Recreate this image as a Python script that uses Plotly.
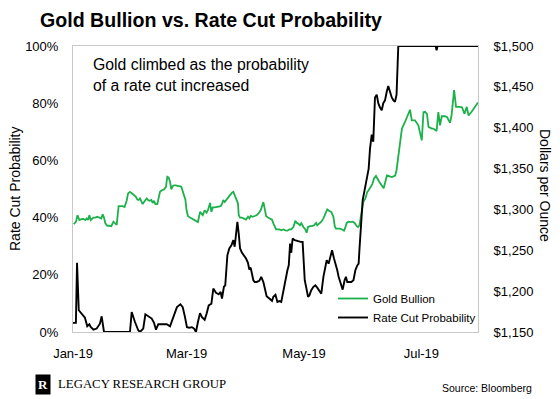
import pandas as pd
import plotly.graph_objects as go

# Days after 1 Jan 2019 and values
gold_day = [
    0.4, 1.6, 2.3, 3.3, 4.3, 5.4, 6.4, 7.1, 7.8, 8.5,
    9.2, 9.9, 10.6, 11.6, 12.6, 13.7, 14.7, 15.4, 16.1, 16.8,
    17.8, 18.9, 19.9, 21.0, 22.0, 22.7, 23.7, 24.8, 25.8, 26.8,
    27.9, 28.6, 29.6, 30.7, 31.7, 32.7, 33.4, 34.1, 34.8, 35.5,
    36.2, 36.9, 37.6, 38.3, 39.0, 39.7, 40.7, 41.4, 42.1, 42.8,
    43.8, 44.5, 45.2, 46.2, 47.3, 48.3, 49.0, 49.7, 50.4, 51.1,
    51.8, 52.5, 53.5, 54.5, 55.6, 56.3, 57.0, 57.7, 58.4, 59.0,
    59.7, 60.8, 61.8, 62.9, 63.9, 64.9, 66.0, 66.7, 67.4, 68.4,
    69.4, 70.1, 71.2, 71.9, 72.6, 73.6, 74.6, 75.7, 76.7, 77.4,
    78.1, 78.8, 79.5, 80.5, 81.6, 82.6, 83.3, 84.0, 85.0, 85.7,
    86.1, 86.8, 87.8, 88.8, 89.9, 90.9, 91.6, 92.3, 93.3, 94.4,
    95.4, 96.4, 97.5, 98.2, 98.9, 99.6, 100.3, 101.3, 102.3, 103.4,
    104.1, 104.8, 105.5, 106.2, 107.2, 108.2, 109.3, 110.3, 111.4, 112.4,
    113.4, 114.5, 115.5, 116.2, 116.9, 117.9, 118.6, 119.7, 120.7, 121.4,
    122.1, 123.1, 124.2, 125.2, 126.3, 126.9, 128.0, 129.0, 130.1, 131.1,
    132.1, 133.2, 134.2, 135.3, 136.0, 136.6, 137.7, 138.7, 139.8, 140.8,
    141.5, 142.2, 143.2, 144.3, 145.3, 146.3, 147.4, 148.1, 148.8, 149.5,
    150.2, 150.8, 151.9, 152.9, 153.6, 154.7, 155.5, 156.4, 157.4, 159.1,
    161.4, 163.1, 165.7, 167.4, 168.1, 170.0, 170.9, 172.5, 175.1, 176.0,
    177.7, 179.4, 181.2, 182.1, 182.9, 183.9, 184.7, 186.4, 187.2, 188.9,
    189.8, 190.7, 191.6, 193.2, 194.3, 195.9, 196.7, 198.0, 199.0, 201.0,
    202.1, 203.4, 204.6, 205.5, 207.1, 210.4,
]
gold_usd = [
    1282, 1285, 1293, 1287, 1288, 1288.5, 1287, 1289, 1287, 1293,
    1287, 1288, 1290, 1290, 1291, 1290, 1289, 1294, 1290, 1283,
    1280, 1280, 1279.5, 1285, 1283, 1281, 1304, 1304, 1304, 1303,
    1311, 1319.5, 1321.5, 1319.5, 1317.5, 1315.5, 1312, 1311.5, 1313.5, 1310.5,
    1306.5, 1309, 1312, 1313.5, 1311.5, 1310.5, 1311.5, 1308, 1310.5, 1306.5,
    1306.5, 1313.5, 1321.5, 1323.5, 1324.5, 1327.5, 1340, 1339, 1334, 1324.5,
    1328.5, 1329.5, 1329.5, 1328.5, 1328.5, 1327.5, 1321.5, 1317.5, 1312, 1299,
    1292, 1290, 1288.5, 1287, 1286, 1284.5, 1297, 1295, 1293, 1299,
    1296, 1299, 1308, 1297, 1302.5, 1302.5, 1303, 1304, 1304, 1306.5,
    1311.5, 1309, 1311.5, 1314.5, 1317.5, 1320.5, 1321.5, 1317.5, 1310.5, 1307.5,
    1293, 1290, 1290, 1289, 1287.5, 1291, 1289, 1292, 1291, 1292,
    1293, 1295, 1299, 1304, 1309, 1301, 1292, 1290, 1289, 1287.5,
    1283, 1278, 1275.5, 1275.5, 1275.5, 1274.5, 1275.5, 1274.5, 1274, 1275.5,
    1275.5, 1278.5, 1286, 1283.5, 1283, 1280.5, 1283, 1278.5, 1275.5, 1271.5,
    1278.5, 1279.5, 1279.5, 1280.5, 1283.5, 1280.5, 1283, 1285, 1289, 1295,
    1300, 1298, 1297, 1291, 1279.5, 1276.5, 1276.5, 1276.5, 1275.5, 1274,
    1278, 1283.5, 1285, 1284.5, 1285, 1283.5, 1279.5, 1278.5, 1280.5, 1290,
    1304, 1309, 1313.5, 1321.5, 1323.5, 1328.5, 1331, 1338, 1341, 1334,
    1326, 1341.5, 1339.5, 1341.5, 1348, 1383, 1399, 1407, 1422, 1409,
    1409, 1403, 1384.5, 1419, 1419.5, 1417, 1401, 1399, 1399, 1396,
    1419, 1403, 1414, 1414, 1413, 1406, 1415.5, 1446, 1425.5, 1425.5,
    1425, 1417, 1425.5, 1415, 1419.5, 1431,
]

prob_day = [
    0.0, 1.5, 2.1, 3.0, 5.0, 6.2, 7.4, 8.5, 9.2, 10.6,
    12.3, 14.0, 14.9, 16.1, 29.6, 30.5, 32.2, 33.9, 34.8, 36.5,
    37.6, 39.1, 40.9, 42.1, 43.1, 44.3, 46.1, 48.7, 50.4, 51.6,
    52.3, 54.0, 55.8, 57.0, 58.0, 59.2, 60.4, 61.8, 62.9, 63.9,
    64.9, 66.0, 67.0, 68.4, 69.4, 70.5, 71.9, 72.9, 74.3, 75.7,
    76.7, 77.4, 78.4, 79.1, 80.2, 81.2, 82.3, 83.3, 84.0, 84.7,
    85.4, 86.1, 86.8, 87.8, 88.8, 89.9, 90.9, 91.6, 92.3, 93.0,
    93.7, 94.4, 95.4, 96.8, 97.8, 98.9, 99.6, 100.6, 102.0, 103.4,
    104.1, 105.2, 106.2, 107.2, 108.2, 109.3, 110.3, 111.4, 112.1, 112.8,
    113.4, 114.1, 115.2, 116.2, 117.3, 118.3, 119.3, 120.4, 121.4, 122.1,
    122.8, 123.8, 124.9, 125.9, 126.9, 128.0, 129.0, 130.1, 131.1, 131.8,
    132.8, 133.9, 134.6, 135.6, 136.3, 137.3, 138.0, 139.1, 140.1, 141.1,
    141.8, 142.5, 143.6, 144.6, 145.7, 146.7, 147.7, 148.4, 148.8, 149.5,
    150.5, 151.5, 152.6, 153.6, 154.3, 155.2, 156.0, 156.9, 157.8, 158.6,
    159.5, 160.4, 161.2, 162.1, 163.0, 163.8, 164.7, 165.6, 166.5, 167.3,
    168.1, 169.0, 188.4, 188.9, 189.4, 210.4,
]
prob_pct = [
    3.2, 3.2, 24.2, 7.6, 6.0, 5.0, 2.0, 2.7, 1.8, 0.8,
    1.2, 2.9, 5.5, 0, 0, 7.0, 3.5, 0.6, 0, 1.2,
    6.2, 5.5, 4.7, 3.2, 0.8, 2.7, 2.7, 2.7, 2.0, 4.5,
    5.8, 8.7, 9.7, 8.7, 5.8, 1.7, 1.5, 1.7, 1.2, 0,
    3.5, 6.6, 5.2, 4.3, 6.4, 9.3, 9.9, 15.2, 13.7, 13.2,
    14.0, 11.7, 15.8, 16.3, 26.8, 29.2, 30.3, 32.1, 29.8, 34.4,
    38.5, 34.4, 29.2, 27.7, 26.8, 25.7, 24.2, 21.8, 22.5, 20.4,
    18.1, 17.5, 17.5, 17.9, 19.3, 17.5, 15.2, 12.5, 11.7, 10.9,
    12.3, 13.0, 10.5, 10.8, 10.5, 14.6, 18.1, 21.6, 23.3, 30.9,
    27.7, 32.7, 32.1, 31.9, 31.5, 31.5, 31.5, 18.1, 14.8, 12.3,
    12.8, 14.6, 15.8, 16.3, 15.5, 14.6, 13.4, 19.3, 23.3, 25.1,
    23.9, 27.4, 28.6, 25.7, 24.2, 21.6, 19.3, 16.9, 14.8, 18.1,
    19.3, 17.5, 17.5, 17.5, 18.1, 21.6, 23.3, 23.9, 28.6, 37.9,
    46.1, 49.6, 54.0, 57.0, 64.0, 69.0, 66.5, 82.0, 83.0, 80.0,
    78.5, 77.5, 80.0, 81.0, 84.0, 86.0, 84.0, 82.0, 81.0, 80.5,
    83.0, 100, 100, 98.5, 100, 100,
]

x_tick_labels = ["Jan-19", "Mar-19", "May-19", "Jul-19"]
x_tick_dates = ["2019-01-01", "2019-03-01", "2019-05-01", "2019-07-01"]

start = pd.Timestamp("2019-01-01")
gold_dates = start + pd.to_timedelta(gold_day, unit="D")
prob_dates = start + pd.to_timedelta(prob_day, unit="D")

SANS = "Arial, Liberation Sans, sans-serif"
SERIF = "Times New Roman, Liberation Serif, serif"
AXIS_COLOR = "#c8c8c8"
NO_TICK = "rgba(0,0,0,0)"

fig = go.Figure()
fig.add_trace(go.Scatter(
    x=gold_dates, y=gold_usd, name="Gold Bullion", yaxis="y",
    mode="lines", line=dict(color="#1db14b", width=1.8),
))
fig.add_trace(go.Scatter(
    x=prob_dates, y=prob_pct, name="Rate Cut Probability", yaxis="y2",
    mode="lines", line=dict(color="#000000", width=1.9),
))

fig.update_layout(
    width=560, height=399,
    margin=dict(l=73, r=82, t=46, b=67),
    paper_bgcolor="white", plot_bgcolor="white",
    font=dict(family=SANS, size=13, color="#000000"),
    title=dict(
        text="<b>Gold Bullion vs. Rate Cut Probability</b>",
        x=40 / 560, xanchor="left", xref="container",
        y=1 - 20 / 399, yanchor="middle", yref="container",
        font=dict(family=SANS, size=19.6, color="#000000"),
    ),
    xaxis=dict(
        type="date",
        range=["2019-01-01", "2019-07-30 10:00"],
        tickvals=x_tick_dates, ticktext=x_tick_labels,
        showgrid=False, zeroline=False,
        showline=True, linecolor=AXIS_COLOR, linewidth=1, mirror=True,
        ticks="outside", ticklen=9, tickcolor=NO_TICK,
        tickfont=dict(size=13),
    ),
    yaxis=dict(
        side="right", range=[1150, 1500], dtick=50, tick0=1150,
        tickprefix="$", tickformat=",.0f",
        showgrid=False, zeroline=False,
        showline=True, linecolor=AXIS_COLOR, linewidth=1, mirror=True,
        ticks="outside", ticklen=12, tickcolor=NO_TICK,
        tickfont=dict(size=13),
    ),
    yaxis2=dict(
        side="left", overlaying="y", range=[0, 100], dtick=20,
        ticksuffix="%",
        showgrid=False, zeroline=False, showline=False,
        ticks="outside", ticklen=11, tickcolor=NO_TICK,
        tickfont=dict(size=13),
    ),
    showlegend=True,
    legend=dict(
        x=(333 - 73) / 405, xanchor="left",
        y=(332 - 284) / 286, yanchor="top",
        bgcolor="rgba(0,0,0,0)", borderwidth=0,
        font=dict(family=SANS, size=11.5, color="#000000"),
        itemwidth=30, tracegroupgap=0,
    ),
)

annotations = [
    dict(text="Gold climbed as the probability<br>of a rate cut increased",
         xref="paper", yref="paper", x=(91 - 73) / 405, y=(332 - 54) / 286,
         xanchor="left", yanchor="top", align="left", showarrow=False,
         font=dict(family=SANS, size=15.8, color="#000000")),
    dict(text="Rate Cut Probability", textangle=-90,
         xref="paper", yref="paper", x=(15 - 73) / 405, y=(332 - 189) / 286,
         xanchor="center", yanchor="middle", showarrow=False,
         font=dict(family=SANS, size=14, color="#000000")),
    dict(text="Dollars per Ounce", textangle=90,
         xref="paper", yref="paper", x=(545 - 73) / 405, y=(332 - 185) / 286,
         xanchor="center", yanchor="middle", showarrow=False,
         font=dict(family=SANS, size=14, color="#000000")),
    dict(text="<b>R</b>", xref="paper", yref="paper",
         x=(43 - 73) / 405, y=(332 - 384) / 286,
         xanchor="center", yanchor="middle", showarrow=False,
         bgcolor="#000000", borderpad=2,
         font=dict(family=SERIF, size=13, color="#ffffff")),
    dict(text="LEGACY RESEARCH GROUP", xref="paper", yref="paper",
         x=(56 - 73) / 405, y=(332 - 384) / 286,
         xanchor="left", yanchor="middle", showarrow=False,
         font=dict(family=SERIF, size=12.8, color="#000000")),
    dict(text="Source: Bloomberg", xref="paper", yref="paper",
         x=(534 - 73) / 405, y=(332 - 388) / 286,
         xanchor="right", yanchor="middle", showarrow=False,
         font=dict(family=SANS, size=10.5, color="#000000")),
]
fig.update_layout(annotations=annotations)

fig.write_html(
    "out.html",
    config={"displayModeBar": False},
    post_script="document.body.style.margin='0px';document.body.style.overflow='hidden';",
)
